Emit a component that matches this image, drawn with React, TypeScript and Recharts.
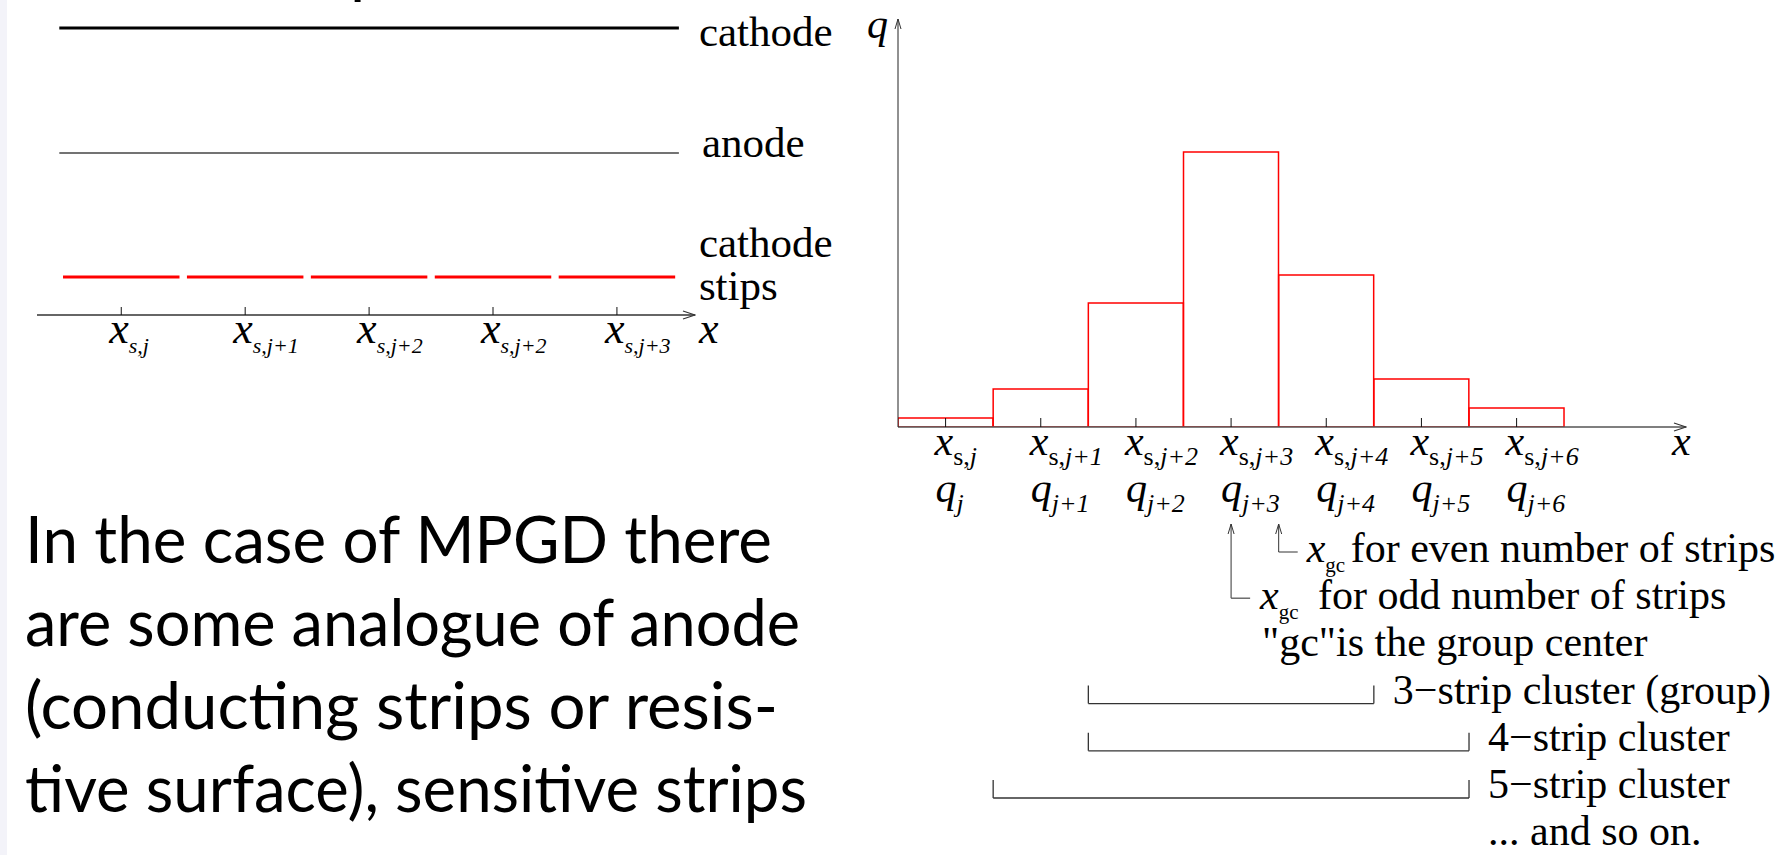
import React from "react";
import { Bar, ComposedChart, ReferenceDot, ReferenceLine, XAxis, YAxis } from "recharts";

// left sketch: strip positions, tick labels, electrode levels
const stripIdx = [0, 1, 2, 3, 4];
const stripSubs = ["s,j", "s,j+1", "s,j+2", "s,j+2", "s,j+3"];
const cathodeLevel = 287;
const anodeLevel = 162;
const stripLevel = 38;
const stripHalf = 0.47;
const planeFrom = -0.5;
const planeTo = 4.5;

// right sketch: collected charge per strip
const chargeIdx = [0, 1, 2, 3, 4, 5, 6];
const chargeVals = [9, 38, 124, 275, 152, 48, 19];
const jSubs = ["j", "j+1", "j+2", "j+3", "j+4", "j+5", "j+6"];

// cluster brackets (strip edges) and their captions
const clusterFrom = [1.5, 1.5, 0.5];
const clusterTo = [4.5, 5.5, 5.5];
const clusterText = ["3\u2212strip cluster (group)", "4\u2212strip cluster", "5\u2212strip cluster"];
const oddCenter = 3;
const evenCenter = 3.5;

const bodyLines = [
  "In the case of MPGD there",
  "are some analogue of anode",
  "(conducting strips or resis-",
  "tive surface), sensitive strips",
];

const serif = "'Liberation Serif', 'Times New Roman', serif";
const sans = "Lato, 'DejaVu Sans', sans-serif";
const rowY = (k: number) => -135 - 47.2 * k;

function LeftTick({ x, y, payload }: any) {
  const sub = stripSubs[stripIdx.indexOf(payload.value)];
  return (
    <g>
      <line x1={x} x2={x} y1={y - 8} y2={y} stroke="#111" strokeWidth={1} />
      <text x={x - 12} y={y + 28} fontFamily={serif} fontStyle="italic" fontSize={44} fill="#000">
        x<tspan fontSize={22} dy={10}>{sub}</tspan>
      </text>
    </g>
  );
}

function RightTick({ x, y, payload }: any) {
  const sub = jSubs[chargeIdx.indexOf(payload.value)];
  return (
    <g>
      <line x1={x} x2={x} y1={y - 9} y2={y} stroke="#111" strokeWidth={1} />
      <text x={x - 11} y={y + 28} fontFamily={serif} fontStyle="italic" fontSize={42} fill="#000">
        x<tspan fontSize={26} dy={10}><tspan fontStyle="normal">s,</tspan>{sub}</tspan>
      </text>
      <text x={x - 10} y={y + 75} fontFamily={serif} fontStyle="italic" fontSize={42} fill="#000">
        q<tspan fontSize={26} dy={10}>{sub}</tspan>
      </text>
    </g>
  );
}

function serifText(dx: number, dy: number, content: React.ReactNode, anchor = "start", size = 42) {
  return (p: any) => (
    <text x={p.cx + dx} y={p.cy + dy} fontFamily={serif} fontSize={size} fill="#000" textAnchor={anchor as any}>
      {content}
    </text>
  );
}

function LeftSketch() {
  const data = stripIdx.map((c) => ({ c, level: stripLevel }));
  return (
    <ComposedChart width={840} height={480} data={data} margin={{ top: 0, right: 145, bottom: 0, left: 37 }}>
      <XAxis
        dataKey="c"
        type="number"
        domain={[-0.68, 4.63]}
        allowDataOverflow
        ticks={stripIdx}
        interval={0}
        height={165}
        tickSize={0}
        tickMargin={0}
        tickLine={false}
        axisLine={{ stroke: "#333", strokeWidth: 1.5, markerEnd: "url(#arrowBig)" }}
        tick={<LeftTick />}
      />
      <YAxis type="number" domain={[0, 315]} allowDataOverflow width={0} tick={false} tickLine={false} axisLine={false} />
      <ReferenceLine segment={[{ x: planeFrom, y: cathodeLevel }, { x: planeTo, y: cathodeLevel }]} stroke="#000" strokeWidth={3} ifOverflow="visible" />
      <ReferenceLine segment={[{ x: planeFrom, y: anodeLevel }, { x: planeTo, y: anodeLevel }]} stroke="#444" strokeWidth={1.4} ifOverflow="visible" />
      {stripIdx.map((c) => (
        <ReferenceLine key={c} segment={[{ x: c - stripHalf, y: stripLevel }, { x: c + stripHalf, y: stripLevel }]} stroke="#ff0000" strokeWidth={3} ifOverflow="visible" />
      ))}
      <ReferenceDot x={planeTo} y={cathodeLevel} r={0} ifOverflow="visible" shape={serifText(20, 18, "cathode", "start", 43)} />
      <ReferenceDot x={planeTo} y={anodeLevel} r={0} ifOverflow="visible" shape={serifText(23, 4, "anode", "start", 43)} />
      <ReferenceDot x={planeTo} y={stripLevel} r={0} ifOverflow="visible" shape={serifText(20, -20, "cathode", "start", 43)} />
      <ReferenceDot x={planeTo} y={stripLevel} r={0} ifOverflow="visible" shape={serifText(20, 23, "stips", "start", 43)} />
      <ReferenceDot x={4.63} y={0} r={0} ifOverflow="visible" shape={serifText(4, 28, <tspan fontStyle="italic">x</tspan>, "start", 44)} />
    </ComposedChart>
  );
}

function RightSketch() {
  const data = chargeIdx.map((i, k) => ({ i, q: chargeVals[k] }));
  const xMax = 7.78;
  const yMax = 408;
  return (
    <ComposedChart width={941} height={855} data={data} barCategoryGap={0} barGap={0} margin={{ top: 19, right: 95, bottom: 0, left: 0 }}>
      <XAxis
        dataKey="i"
        type="number"
        domain={[-0.5, xMax]}
        allowDataOverflow
        ticks={chargeIdx}
        interval={0}
        height={428}
        tickSize={0}
        tickMargin={0}
        tickLine={false}
        axisLine={{ stroke: "#555", strokeWidth: 1.5, markerEnd: "url(#arrowBig)" }}
        tick={<RightTick />}
      />
      <YAxis
        type="number"
        domain={[0, yMax]}
        allowDataOverflow
        width={58}
        tick={false}
        tickLine={false}
        axisLine={{ stroke: "#222", strokeWidth: 1, markerStart: "url(#arrowSmall)" }}
      />
      <Bar dataKey="q" fill="none" stroke="#ff0000" strokeWidth={1.5} isAnimationActive={false} />
      <ReferenceDot x={-0.5} y={yMax} r={0} ifOverflow="visible" shape={serifText(-10, 19, <tspan fontStyle="italic">q</tspan>, "end")} />
      <ReferenceDot x={xMax} y={0} r={0} ifOverflow="visible" shape={serifText(-14, 28, <tspan fontStyle="italic">x</tspan>)} />

      {/* group-center arrows */}
      <ReferenceLine segment={[{ x: evenCenter, y: rowY(0) + 10 }, { x: evenCenter, y: -97 }]} stroke="#333" strokeWidth={1} markerEnd="url(#arrowSmall)" ifOverflow="visible" />
      <ReferenceLine segment={[{ x: evenCenter, y: rowY(0) + 10 }, { x: evenCenter + 0.2, y: rowY(0) + 10 }]} stroke="#333" strokeWidth={1} ifOverflow="visible" />
      <ReferenceLine segment={[{ x: oddCenter, y: rowY(1) + 11 }, { x: oddCenter, y: -97 }]} stroke="#333" strokeWidth={1} markerEnd="url(#arrowSmall)" ifOverflow="visible" />
      <ReferenceLine segment={[{ x: oddCenter, y: rowY(1) + 11 }, { x: oddCenter + 0.2, y: rowY(1) + 11 }]} stroke="#555" strokeWidth={1.3} ifOverflow="visible" />
      <ReferenceDot
        x={evenCenter}
        y={rowY(0)}
        r={0}
        ifOverflow="visible"
        shape={(p: any) => (
          <text x={p.cx + 28} y={p.cy} fontFamily={serif} fontSize={42} fill="#000">
            <tspan fontStyle="italic">x</tspan>
            <tspan fontSize={21} dy={10}>gc</tspan>
            <tspan x={p.cx + 72} dy={-10}>for even number of strips</tspan>
          </text>
        )}
      />
      <ReferenceDot
        x={oddCenter}
        y={rowY(1)}
        r={0}
        ifOverflow="visible"
        shape={(p: any) => (
          <text x={p.cx + 29} y={p.cy} fontFamily={serif} fontSize={42} fill="#000">
            <tspan fontStyle="italic">x</tspan>
            <tspan fontSize={21} dy={10}>gc</tspan>
            <tspan x={p.cx + 87} dy={-10}>for odd number of strips</tspan>
          </text>
        )}
      />
      <ReferenceDot x={oddCenter} y={rowY(2)} r={0} ifOverflow="visible" shape={serifText(31, 0, '"gc"is the group center')} />

      {/* cluster brackets */}
      {clusterFrom.map((from, k) => {
        const to = clusterTo[k];
        const y = rowY(3 + k);
        return (
          <React.Fragment key={k}>
            <ReferenceLine segment={[{ x: from, y }, { x: to, y }]} stroke="#333" strokeWidth={1.3} ifOverflow="visible" />
            <ReferenceLine segment={[{ x: from, y }, { x: from, y: y + 18 }]} stroke="#333" strokeWidth={1.3} ifOverflow="visible" />
            <ReferenceLine segment={[{ x: to, y }, { x: to, y: y + 18 }]} stroke="#333" strokeWidth={1.3} ifOverflow="visible" />
            <ReferenceDot x={to} y={y} r={0} ifOverflow="visible" shape={serifText(19, 0, clusterText[k])} />
          </React.Fragment>
        );
      })}
      <ReferenceDot x={clusterTo[2]} y={rowY(6)} r={0} ifOverflow="visible" shape={serifText(19, 0, "... and so on.")} />
    </ComposedChart>
  );
}

export default function App() {
  const bodyWidths = [747, 775, 753, 782];
  return (
    <div style={{ position: "absolute", left: 0, top: 0, width: 1781, height: 855, background: "#fff", overflow: "hidden" }}>
      <svg width={0} height={0} style={{ position: "absolute" }}>
        <defs>
          <marker id="arrowBig" viewBox="0 0 14 10" refX={13} refY={5} markerWidth={14} markerHeight={10} markerUnits="userSpaceOnUse" orient="auto-start-reverse">
            <path d="M1,1 L13,5 L1,9" fill="none" stroke="#333" strokeWidth={1.2} />
          </marker>
          <marker id="arrowSmall" viewBox="0 0 12 8" refX={11} refY={4} markerWidth={12} markerHeight={8} markerUnits="userSpaceOnUse" orient="auto-start-reverse">
            <path d="M1,1 L11,4 L1,7" fill="none" stroke="#333" strokeWidth={1} />
          </marker>
        </defs>
      </svg>
      <svg width={1781} height={855} style={{ position: "absolute", left: 0, top: 0 }}>
        <rect x={0} y={0} width={7} height={855} fill="#f3f3f9" />
        <text x={350} y={-9} fontFamily={sans} fontSize={66} fill="#000">p</text>
        {bodyLines.map((t, i) => (
          <text key={i} x={25} y={563 + i * 83} fontFamily={sans} fontSize={66} fill="#000" textLength={bodyWidths[i]} lengthAdjust="spacingAndGlyphs">
            {t}
          </text>
        ))}
      </svg>
      <div style={{ position: "absolute", left: 0, top: 0 }}>
        <LeftSketch />
      </div>
      <div style={{ position: "absolute", left: 840, top: 0 }}>
        <RightSketch />
      </div>
    </div>
  );
}
